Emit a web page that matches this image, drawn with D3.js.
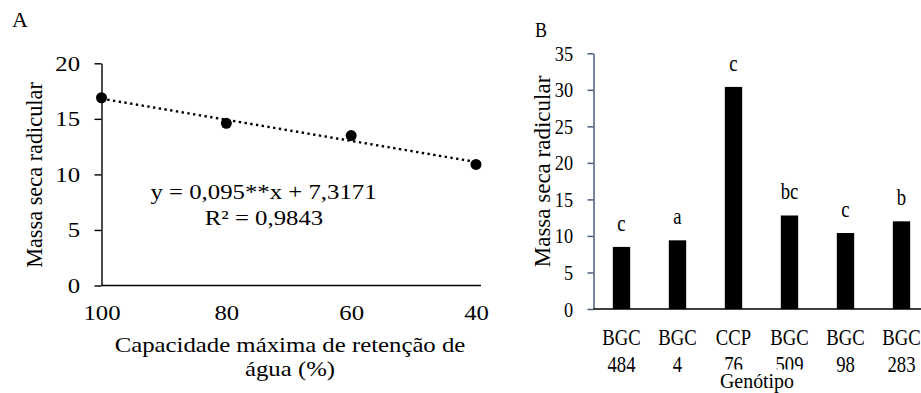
<!DOCTYPE html>
<html>
<head>
<meta charset="utf-8">
<script src="https://cdn.jsdelivr.net/npm/d3@7"></script>
<style>
  body { margin: 0; background: #fff; }
  svg { display: block; }
  text { font-family: "Liberation Serif", "Times New Roman", serif; fill: #000; }
</style>
</head>
<body>
<svg id="chart"></svg>
<script>
// Panel A data
const capacity = [100, 80, 60, 40];
const massA = [16.9, 14.6, 13.5, 10.9];
const fitSlope = 0.095;
const fitIntercept = 7.3171;
const xTicksA = [100, 80, 60, 40];
const yTicksA = [0, 5, 10, 15, 20];

// Panel B data
const genotypes = ["BGC 484", "BGC 4", "CCP 76", "BGC 509", "BGC 98", "BGC 283"];
const massB = [8.5, 9.4, 30.4, 12.8, 10.4, 12.0];
const letters = ["c", "a", "c", "bc", "c", "b"];
const yTicksB = [0, 5, 10, 15, 20, 25, 30, 35];

const W = 921, H = 393;
const svg = d3.select("#chart").attr("width", W).attr("height", H);

// helper for horizontally stretched/squeezed text
function label(g, x, y, str, size, sx, anchor) {
  return g.append("text")
    .attr("transform", `translate(${x},${y}) scale(${sx},1)`)
    .attr("text-anchor", anchor || "middle")
    .style("font-size", size + "px")
    .text(str);
}

// ---------- Panel A ----------
const gA = svg.append("g");
const xA = d3.scaleLinear().domain([100, 40]).range([101.5, 476]);
const yA = d3.scaleLinear().domain([0, 20]).range([285.5, 63.3]);
const sxA = 1.18;

const yAxisA = gA.append("g")
  .attr("transform", `translate(${xA(100)},0)`)
  .call(d3.axisLeft(yA).tickValues(yTicksA).tickSize(7).tickSizeOuter(0).tickPadding(11.2));
yAxisA.selectAll("text")
  .attr("transform", `scale(${sxA},1)`)
  .style("font-size", "21px");

const xAxisA = gA.append("g")
  .attr("transform", `translate(0,${yA(0)})`)
  .call(d3.axisBottom(xA).tickValues(xTicksA).tickSize(0).tickSizeOuter(0).tickPadding(19.5));
xAxisA.select(".domain").remove();
xAxisA.selectAll("text")
  .attr("transform", `scale(${sxA},1)`)
  .style("font-size", "21px");

gA.selectAll(".domain, .tick line").attr("stroke", "#000").attr("stroke-width", 1.4);

// x axis line (runs a bit past the last point)
gA.append("line")
  .attr("x1", xA(100)).attr("x2", xA(40) + 5)
  .attr("y1", yA(0)).attr("y2", yA(0))
  .attr("stroke", "#000").attr("stroke-width", 1.4);

// dotted trend line
gA.append("line")
  .attr("x1", xA(100)).attr("y1", yA(fitSlope * 100 + fitIntercept))
  .attr("x2", xA(40)).attr("y2", yA(fitSlope * 40 + fitIntercept))
  .attr("stroke", "#000")
  .attr("stroke-width", 2.4)
  .attr("stroke-dasharray", "2.4,3.4");

gA.selectAll("circle")
  .data(capacity.map((c, i) => ({ c, m: massA[i] })))
  .join("circle")
  .attr("cx", d => xA(d.c))
  .attr("cy", d => yA(d.m))
  .attr("r", 5.5)
  .attr("fill", "#000");

label(gA, 12, 27, "A", 20, 1.1, "start");
label(gA, 263.5, 199, "y = 0,095**x + 7,3171", 21, sxA);
label(gA, 264, 224.5, "R² = 0,9843", 21, sxA);
label(gA, 290, 352, "Capacidade máxima de retenção de", 21, sxA);
label(gA, 290, 376, "água (%)", 21, sxA);

gA.append("text")
  .attr("transform", "translate(41.5,175) rotate(-90)")
  .attr("text-anchor", "middle")
  .style("font-size", "22.3px")
  .text("Massa seca radicular");

// ---------- Panel B ----------
const gB = svg.append("g");
const axisColor = "#4a5d7e";
const sxB = 0.83;
const step = 56;
const xB = d3.scaleBand().domain(genotypes)
  .range([593.5, 593.5 + step * genotypes.length])
  .paddingInner(0.69).paddingOuter(0.345);
const yB = d3.scaleLinear().domain([0, 35]).range([309, 53.3]);

const yAxisB = gB.append("g")
  .attr("transform", "translate(593.5,0)")
  .call(d3.axisLeft(yB).tickValues(yTicksB).tickSize(6).tickSizeOuter(0).tickPadding(18.7));
yAxisB.selectAll(".domain, .tick line").attr("stroke", axisColor).attr("stroke-width", 1.5);
yAxisB.selectAll("text")
  .attr("transform", `scale(${sxB},1)`)
  .style("font-size", "22px");

gB.selectAll("rect.bar")
  .data(genotypes.map((g, i) => ({ g, v: massB[i], l: letters[i] })))
  .join("rect")
  .attr("class", "bar")
  .attr("x", d => xB(d.g))
  .attr("y", d => yB(d.v))
  .attr("width", xB.bandwidth())
  .attr("height", d => yB(0) - yB(d.v))
  .attr("fill", "#000");

gB.append("line")
  .attr("x1", 593.5).attr("x2", W)
  .attr("y1", yB(0)).attr("y2", yB(0))
  .attr("stroke", "#000").attr("stroke-width", 1.5);

genotypes.forEach((g, i) => {
  const cx = xB(g) + xB.bandwidth() / 2;
  const parts = g.split(" ");
  label(gB, cx, 345, parts[0], 22.5, sxB);
  label(gB, cx, 371.5, parts[1], 22.5, sxB);
  label(gB, cx, yB(massB[i]) - 16, letters[i], 22.5, sxB);
});

// title box hides the bottom of the labels above it, as in the original
gB.append("rect")
  .attr("x", 712).attr("y", 369.5)
  .attr("width", 94).attr("height", 24)
  .attr("fill", "#fff");
label(gB, 757, 388, "Genótipo", 20.5, 0.97);

label(gB, 535, 37, "B", 20, 0.9, "start");

gB.append("text")
  .attr("transform", "translate(550,171.5) rotate(-90)")
  .attr("text-anchor", "middle")
  .style("font-size", "23px")
  .text("Massa seca radicular");
</script>
</body>
</html>
